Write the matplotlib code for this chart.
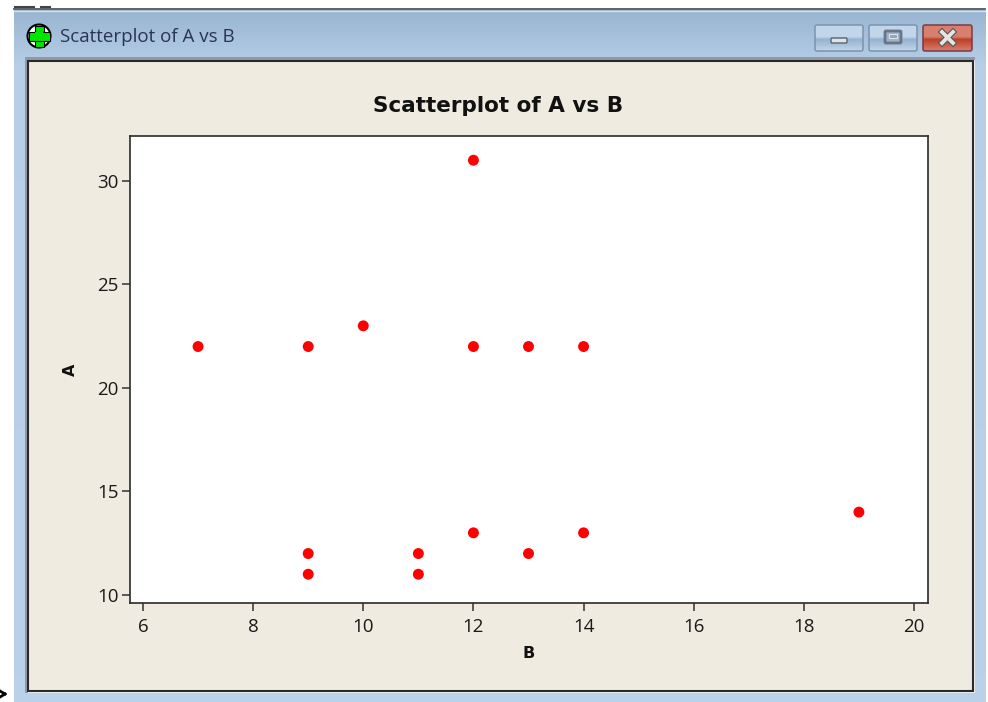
import numpy as np
import matplotlib
matplotlib.use('Agg')
import matplotlib.pyplot as plt
from matplotlib.patches import Rectangle, FancyBboxPatch, Circle

plt.rcParams['font.family'] = ['Open Sans', 'DejaVu Sans']

# Data
B = [7, 9, 10, 12, 12, 13, 14, 9, 9, 11, 11, 12, 13, 14, 19]
A = [22, 22, 23, 31, 22, 22, 22, 12, 11, 12, 11, 13, 12, 13, 14]
x_ticks = [6, 8, 10, 12, 14, 16, 18, 20]
y_ticks = [10, 15, 20, 25, 30]

W, H = 988, 702
fig = plt.figure(figsize=(W / 100, H / 100), dpi=100, facecolor='white')

# Window chrome, drawn in pixel coordinates
bg = fig.add_axes([0, 0, 1, 1])
bg.axis('off')


# Vertical gradient image from (position, rgb) stops
def gradient(x0, x1, y0, y1, pos, cols, z):
    t = np.linspace(0, 1, 256)
    img = np.zeros((256, 1, 3))
    for i in range(3):
        img[:, 0, i] = np.interp(t, pos, [c[i] for c in cols])
    bg.imshow(img, extent=[x0, x1, y1, y0], aspect='auto', zorder=z)


# Blue window frame, lighter toward the panel
gradient(14, 985, 10, 702, [0, 0.08, 1],
         [(0.60, 0.71, 0.82), (0.72, 0.81, 0.91), (0.73, 0.82, 0.92)], 1)
bg.plot([14, 985], [8.5, 8.5], color='#555555', lw=1.3, zorder=2)
bg.plot([14, 985], [10.5, 10.5], color='#d5e0ea', lw=1.0, zorder=2)

# Panel, grey shadow on top and left, pale edge on right and bottom
bg.add_patch(Rectangle((25, 58), 950, 635, fc='#f0f3f6', ec='none', zorder=2))
bg.add_patch(Rectangle((25, 57), 950, 3, fc='#8f9aa6', ec='none', zorder=2))
bg.add_patch(Rectangle((25, 57), 2.5, 636, fc='#8f9aa6', ec='none', zorder=2))
bg.add_patch(Rectangle((27.5, 60.5), 945, 630, fc='#efebe0', ec='#2a2a2a', lw=1.5, zorder=3))

# Title bar icon
bg.add_patch(Circle((39, 36), 11.5, fc='white', ec='black', lw=1.5, zorder=3))
bg.add_patch(Rectangle((34.5, 25.5), 9, 21, fc='#00e800', ec='black', lw=0.8, zorder=4))
bg.add_patch(Rectangle((28.5, 31.5), 21, 9, fc='#00e800', ec='black', lw=0.8, zorder=4))
bg.add_patch(Rectangle((35, 32), 8, 8, fc='#00e800', ec='none', zorder=5))
bg.text(60, 37, 'Scatterplot of A vs B', fontsize=13.5, color='#2a3450',
        ha='left', va='center', zorder=4)


# Window buttons
def button(x0, x1, light, dark, edge):
    gradient(x0, x1, 25, 51, [0, 0.45, 0.55, 1], [light, light, dark, light], 3)
    bg.add_patch(FancyBboxPatch((x0, 25), x1 - x0, 26, boxstyle='round,pad=0,rounding_size=2',
                                fc='none', ec=edge, lw=1.1, zorder=4))


button(815, 863, (0.76, 0.84, 0.92), (0.58, 0.70, 0.82), '#7c93b0')
button(869, 917, (0.76, 0.84, 0.92), (0.58, 0.70, 0.82), '#7c93b0')
button(923, 972, (0.85, 0.50, 0.44), (0.74, 0.25, 0.15), '#7a3a44')
bg.add_patch(FancyBboxPatch((831, 38), 16, 5, boxstyle='round,pad=0,rounding_size=1',
                            fc='#dfe2e6', ec='#5a6472', lw=1.0, zorder=5))
bg.add_patch(FancyBboxPatch((885, 31), 16, 12, boxstyle='round,pad=0,rounding_size=1',
                            fc='#9db3cb', ec='#6a7482', lw=2.0, zorder=5))
bg.add_patch(Rectangle((889, 34), 8, 4, fc='#8ea6c0', ec='#dfe2e6', lw=0.8, zorder=6))
bg.plot([942, 953], [32, 43], color='#555555', lw=4.4, zorder=5)
bg.plot([942, 953], [43, 32], color='#555555', lw=4.4, zorder=5)
bg.plot([942, 953], [32, 43], color='#e4e4e4', lw=2.8, zorder=6)
bg.plot([942, 953], [43, 32], color='#e4e4e4', lw=2.8, zorder=6)

# Bits of the screenshot outside the window
bg.plot([0, 5], [691, 694], color='black', lw=2, zorder=2)
bg.plot([0, 5], [697, 694], color='black', lw=2, zorder=2)
bg.plot([15, 34], [6.5, 6.5], color='#444444', lw=1.5, zorder=2)
bg.plot([41, 50], [6.5, 6.5], color='#444444', lw=1.5, zorder=2)
bg.set_xlim(0, W)
bg.set_ylim(H, 0)

# Plot
left, right, top, bottom = 129.5, 927.5, 136, 603
ax = fig.add_axes([left / W, 1 - bottom / H, (right - left) / W, (bottom - top) / H])
ax.set_zorder(5)
ax.scatter(B, A, s=62, color='#ff0000', edgecolors='none', zorder=3)
ax.set_xlim(5.755, 20.245)
ax.set_ylim(9.61, 32.17)
ax.set_xticks(x_ticks)
ax.set_yticks(y_ticks)
ax.tick_params(length=6, width=1.1, color='#333333', labelsize=13.5, labelcolor='#1a1a1a')
ax.tick_params(axis='x', pad=5)
ax.tick_params(axis='y', pad=2)
for s in ax.spines.values():
    s.set_linewidth(1.2)
    s.set_color('#2a2a2a')
ax.set_xlabel('B', fontsize=11.5, fontweight='bold', family='DejaVu Sans', labelpad=7, color='#111111')
ax.set_ylabel('A', fontsize=11.5, fontweight='bold', family='DejaVu Sans', labelpad=13.5, color='#111111')
fig.text(498.5 / W, 1 - 105.5 / H, 'Scatterplot of A vs B', fontsize=15.5, fontweight='bold',
         family='DejaVu Sans', ha='center', va='center', color='#111111', zorder=6)

plt.savefig('out.png', dpi=100)
